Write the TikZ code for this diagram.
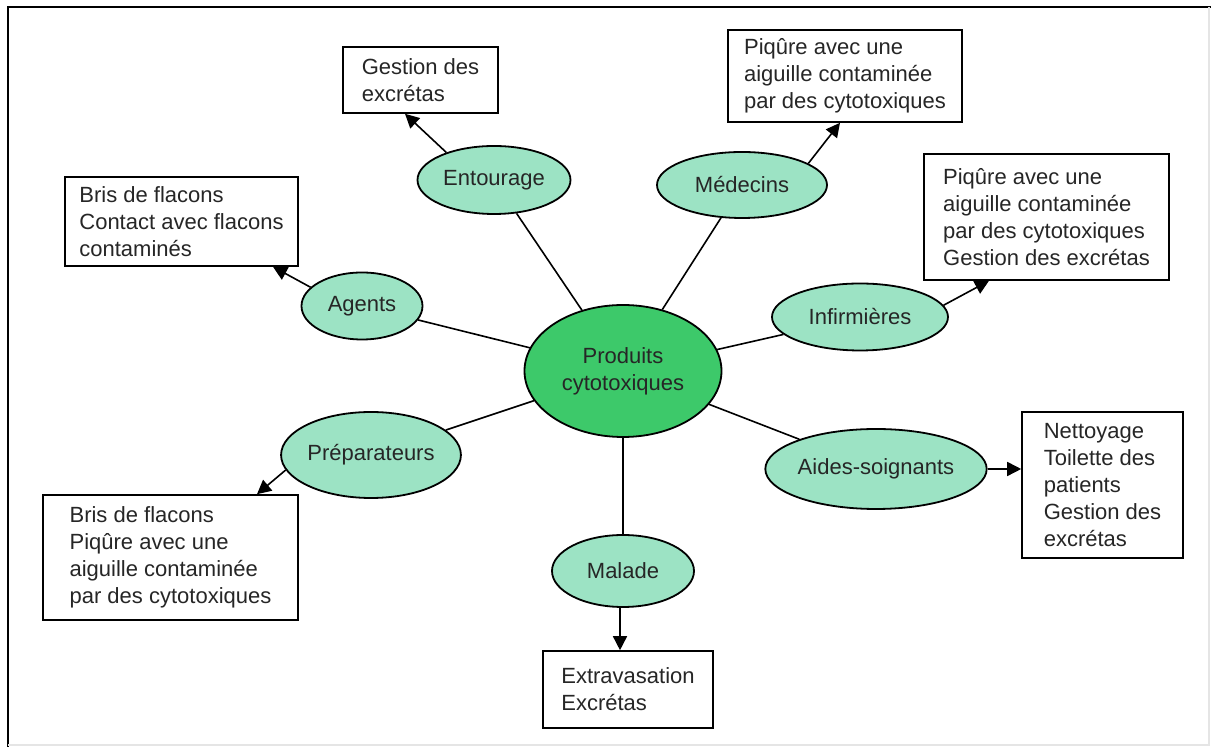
\documentclass[tikz,border=0pt]{standalone}
\usepackage{fontspec}
\setmainfont{Liberation Sans}
\usetikzlibrary{shapes.geometric, arrows.meta}
\definecolor{mint}{HTML}{9CE3C4}
\definecolor{leaf}{HTML}{3DC96A}
\tikzset{
  txt/.style={font=\fontsize{11}{13.5}\selectfont, text=black!85},
  role/.style={ellipse, draw, line width=0.9pt, fill=mint, inner sep=0pt, txt},
  core/.style={role, fill=leaf, align=center},
  infobox/.style={rectangle, draw, line width=0.8pt, fill=white, align=left, inner sep=0pt, txt},
  arr/.style={-{Triangle[length=7pt,width=7pt]}, line width=0.8pt},
  spoke/.style={line width=0.8pt}
}

\begin{document}
\begin{tikzpicture}[x=0.5pt, y=-0.5pt]
	\useasboundingbox (0,0) rectangle (1211,747);
	\draw[line width=1.2pt] (8,747) -- (8,7) -- (1211,7);
	\draw[black!10, line width=0.6pt] (1209,7) -- (1209,745) -- (8,745);

	% centre and actors
	\node[core, minimum width=98.5pt, minimum height=66pt] (prod) at (623,371) {Produits\\cytotoxiques};
	\node[role, minimum width=76.5pt, minimum height=34pt] (ent) at (494,180) {Entourage};
	\node[role, minimum width=85pt, minimum height=33pt] (med) at (742,185) {Médecins};
	\node[role, minimum width=60.5pt, minimum height=33.5pt] (agt) at (362,306) {Agents};
	\node[role, minimum width=88pt, minimum height=33.5pt] (inf) at (860,317) {Infirmières};
	\node[role, minimum width=77pt, minimum height=43pt] (prep) at (371,455) {Préparateurs};
	\node[role, minimum width=102.5pt, minimum height=40pt] (aides) at (876,469) {Aides-soignants};
	\node[role, minimum width=71pt, minimum height=36pt] (mal) at (623,571) {Malade};

	% risk boxes
	\node[infobox, minimum width=77.5pt, minimum height=33pt] (gbox) at (420.5,80) {Gestion des\\excrétas};
	\node[infobox, minimum width=117pt, minimum height=46pt] (mbox) at (845,76) {Piqûre avec une\\aiguille contaminée\\par des cytotoxiques};
	\node[infobox, minimum width=116.5pt, minimum height=44.5pt] (abox) at (181.5,221.5) {Bris de flacons\\Contact avec flacons\\contaminés};
	\node[infobox, minimum width=122.5pt, minimum height=63pt] (ibox) at (1046.5,217) {Piqûre avec une\\aiguille contaminée\\par des cytotoxiques\\Gestion des excrétas};
	\node[infobox, minimum width=127.5pt, minimum height=62.5pt] (pbox) at (170.5,557.5) {Bris de flacons\\Piqûre avec une\\aiguille contaminée\\par des cytotoxiques};
	\node[infobox, minimum width=80.5pt, minimum height=73pt] (sbox) at (1102.5,485) {Nettoyage\\Toilette des\\patients\\Gestion des\\excrétas};
	\node[infobox, minimum width=85pt, minimum height=38.5pt] (xbox) at (628,689.5) {Extravasation\\Excrétas};

	% spokes
	\foreach \who in {ent, med, agt, inf, prep, aides, mal}
		\draw[spoke] (prod) -- (\who);

	% arrows to the boxes
	\draw[arr] (ent.150) -- ([xshift=-7.75pt]gbox.south);
	\draw[arr] (med.18) -- ([xshift=-2.5pt]mbox.south);
	\draw[arr] (agt.160) -- ([xshift=45.75pt]abox.south);
	\draw[arr] (inf.8) -- ([xshift=-28.75pt]ibox.south);
	\draw[arr] (prep.190) -- ([xshift=43.25pt]pbox.north);
	\draw[arr] (aides.east) -- (aides.east -| sbox.west);
	\draw[arr] ([xshift=-1.5pt]mal.south) -- ([xshift=-1.5pt]mal.south |- xbox.north);
\end{tikzpicture}
\end{document}
